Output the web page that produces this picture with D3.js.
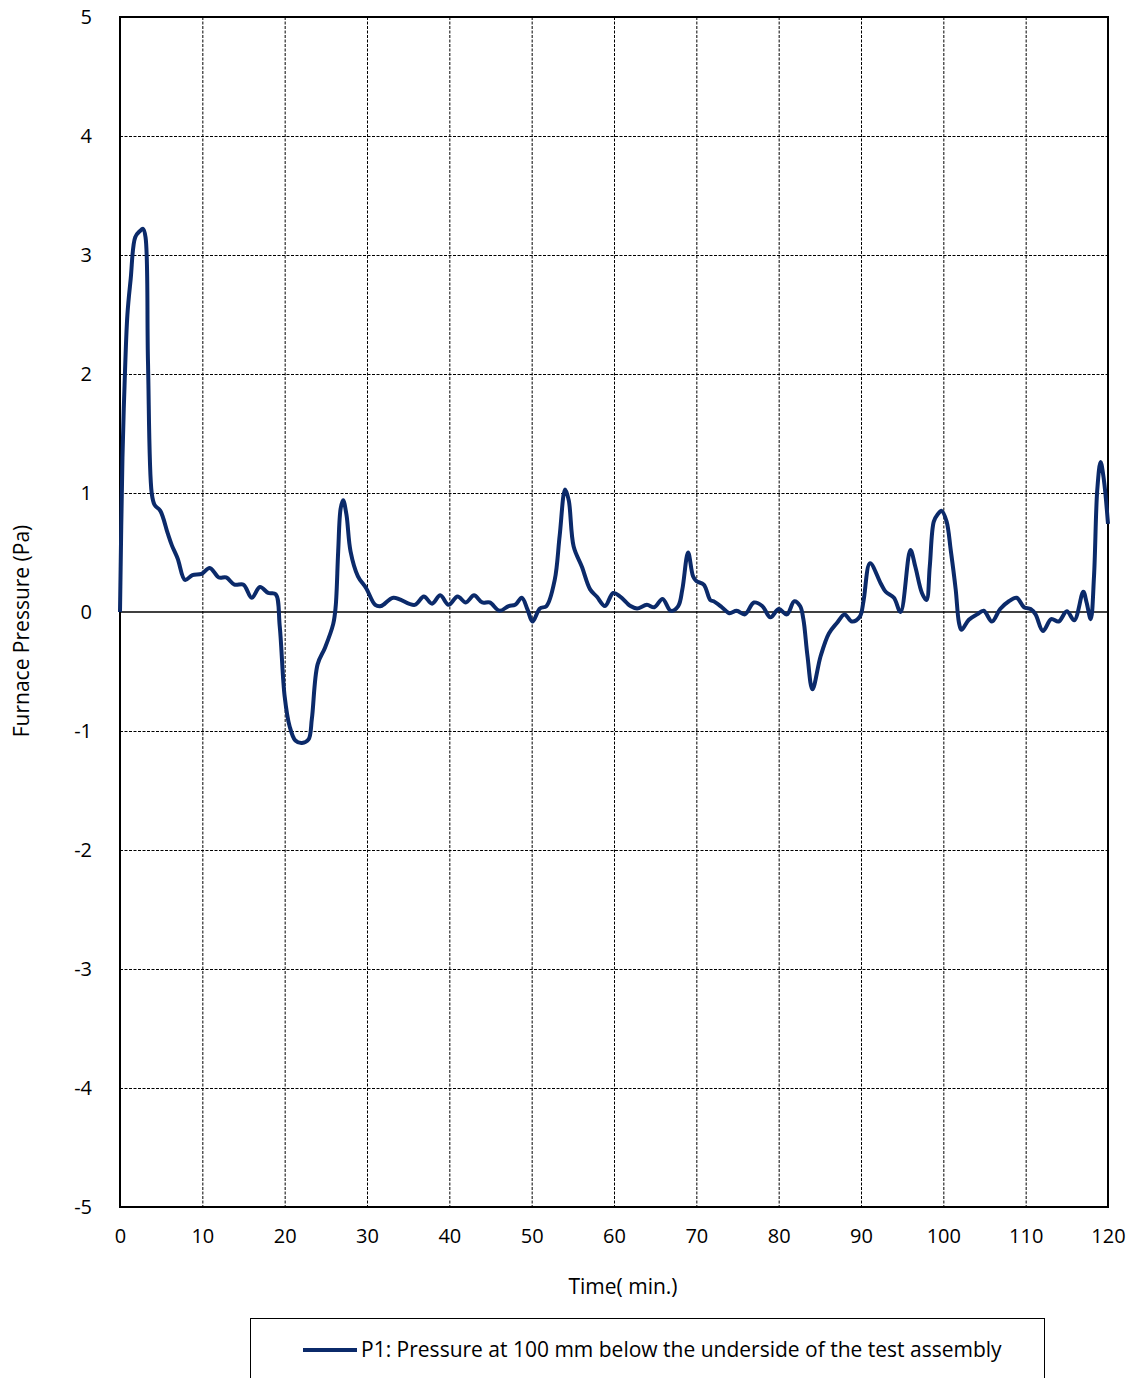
<!DOCTYPE html>
<html>
<head>
<meta charset="utf-8">
<script src="https://cdn.jsdelivr.net/npm/d3@7"></script>
<style>
  body { margin: 0; background: #fff; }
  svg text { font-family: "Open Sans", sans-serif; fill: #000; }
</style>
</head>
<body>
<svg id="chart" width="1130" height="1378"></svg>
<script>
// time (min) and furnace pressure (Pa)
const timeMin = [0, 0.3, 0.55, 0.9, 1.3, 1.85, 2.4, 2.8, 3.1, 3.4, 3.85, 4.2, 4.9, 5.8, 6.3, 7.0, 7.9, 8.8, 9.9,
  10.9, 12.0, 12.9, 13.9, 15.0, 16.0, 17.0, 18.0, 18.9, 19.4, 20.0, 20.6, 21.3, 22.1, 22.9, 23.3, 24.0, 24.9,
  25.9, 26.2, 26.5, 26.8, 27.1, 27.5, 28.0, 28.9, 29.9, 31.0, 31.7, 33.2, 35.8, 36.9, 37.9, 38.9, 39.9, 41.0,
  42.0, 43.0, 44.0, 44.9, 46.1, 47.2, 48.0, 48.8, 49.5, 50.1, 51.0, 51.8, 52.8, 53.4, 54.06, 54.5, 55.1, 56.1,
  57.1, 57.9, 58.9, 59.9, 60.75, 62.0, 62.8, 64.0, 64.9, 65.9, 66.9, 67.8, 68.3, 69.0, 69.6, 70.0, 70.9, 71.7,
  72.1, 73.1, 74.0, 74.9, 75.9, 77.0, 78.0, 79.0, 80.0, 81.0, 81.9, 82.6, 83.0, 83.5, 84.1, 85.1, 86.1, 87.1,
  88.0, 88.9, 89.85, 90.3, 91.1, 92.4, 93.0, 94.0, 94.8, 96.0, 96.6, 97.4, 97.95, 98.35, 98.84, 99.3, 99.8,
  100.4, 100.9, 101.5, 101.9, 102.2, 103.1, 104.1, 104.9, 105.9, 106.9, 107.96, 108.9, 109.8, 110.6, 111.2,
  112.1, 113.1, 114.0, 115.0, 115.9, 117.0, 117.4, 117.9, 118.3, 118.7, 119.1, 119.5, 120.0];
const pressurePa = [0, 1.3, 1.9, 2.5, 2.8, 3.15, 3.2, 3.22, 3.15, 2.1, 1.0, 0.9, 0.85, 0.66, 0.56, 0.45, 0.27, 0.31, 0.32,
  0.37, 0.29, 0.29, 0.23, 0.23, 0.12, 0.21, 0.16, 0.15, -0.12, -0.71, -0.96, -1.08, -1.1, -1.07, -0.9, -0.44, -0.3,
  -0.1, 0.05, 0.51, 0.87, 0.94, 0.82, 0.51, 0.3, 0.2, 0.06, 0.05, 0.12, 0.06, 0.13, 0.07, 0.14, 0.06, 0.13,
  0.08, 0.14, 0.08, 0.08, 0.01, 0.05, 0.06, 0.12, 0.02, -0.08, 0.03, 0.05, 0.27, 0.64, 1.03, 0.94, 0.55, 0.38,
  0.19, 0.13, 0.05, 0.16, 0.13, 0.05, 0.03, 0.06, 0.04, 0.11, 0.01, 0.05, 0.19, 0.5, 0.3, 0.26, 0.23, 0.1,
  0.09, 0.04, -0.01, 0.01, -0.02, 0.08, 0.05, -0.045, 0.025, -0.02, 0.09, 0.05, -0.06, -0.37, -0.65, -0.37, -0.18, -0.09,
  -0.02, -0.08, -0.04, 0.09, 0.41, 0.24, 0.17, 0.12, 0, 0.52, 0.38, 0.16, 0.1, 0.38, 0.76, 0.82, 0.85,
  0.76, 0.52, 0.19, -0.09, -0.15, -0.065, -0.02, 0.01, -0.08, 0.025, 0.09, 0.12, 0.04, 0.025, -0.02,
  -0.16, -0.06, -0.08, 0.006, -0.07, 0.17, 0.08, -0.06, 0.3, 1.03, 1.26, 1.11, 0.74];

const xTicks = [0, 10, 20, 30, 40, 50, 60, 70, 80, 90, 100, 110, 120];
const yTicks = [-5, -4, -3, -2, -1, 0, 1, 2, 3, 4, 5];
const seriesName = "P1: Pressure at 100 mm below the underside of the test assembly";

const plotLeft = 120, plotRight = 1108, plotTop = 17, plotBottom = 1207;
const lineColor = "#0b2a6a";

const svg = d3.select("#chart");
const x = d3.scaleLinear().domain([0, 120]).range([plotLeft, plotRight]);
const y = d3.scaleLinear().domain([-5, 5]).range([plotBottom, plotTop]);

// dashed grid
svg.append("g").selectAll("line")
  .data(xTicks.filter(d => d > 0 && d < 120))
  .enter().append("line")
  .attr("x1", d => x(d) + 0.5).attr("x2", d => x(d) + 0.5)
  .attr("y1", plotTop).attr("y2", plotBottom)
  .attr("stroke", "#000").attr("stroke-width", 1).attr("stroke-dasharray", "3,1.5");

svg.append("g").selectAll("line")
  .data(yTicks.filter(d => d > -5 && d < 5 && d !== 0))
  .enter().append("line")
  .attr("x1", plotLeft).attr("x2", plotRight)
  .attr("y1", d => y(d) + 0.5).attr("y2", d => y(d) + 0.5)
  .attr("stroke", "#000").attr("stroke-width", 1).attr("stroke-dasharray", "3,1.5");

// zero line
svg.append("line")
  .attr("x1", plotLeft).attr("x2", plotRight)
  .attr("y1", y(0)).attr("y2", y(0))
  .attr("stroke", "#000").attr("stroke-width", 1.5);

// frame
svg.append("rect")
  .attr("x", plotLeft).attr("y", plotTop)
  .attr("width", plotRight - plotLeft).attr("height", plotBottom - plotTop)
  .attr("fill", "none").attr("stroke", "#000").attr("stroke-width", 2);

// axes labels (plain hyphen for negatives, like the original)
const xAxis = d3.axisBottom(x).tickValues(xTicks).tickFormat(d => String(d)).tickSize(0).tickPadding(22);
svg.append("g").attr("transform", `translate(0,${plotBottom})`).call(xAxis)
  .call(g => g.select(".domain").remove())
  .selectAll("text").style("font-size", "20px").style("font-family", null);

const yAxis = d3.axisLeft(y).tickValues(yTicks).tickFormat(d => String(d)).tickSize(0).tickPadding(28);
svg.append("g").attr("transform", `translate(${plotLeft},0)`).call(yAxis)
  .call(g => g.select(".domain").remove())
  .selectAll("text").style("font-size", "20px").style("font-family", null);

svg.append("text")
  .attr("x", 623).attr("y", 1294)
  .attr("text-anchor", "middle").style("font-size", "21px")
  .text("Time( min.)");

svg.append("text")
  .attr("transform", `translate(29,${(plotTop + plotBottom) / 2 + 19}) rotate(-90)`)
  .attr("text-anchor", "middle").style("font-size", "21px")
  .text("Furnace Pressure (Pa)");

// the series
const data = timeMin.map((t, i) => ({ t, p: pressurePa[i] }));
const line = d3.line()
  .x(d => x(d.t))
  .y(d => y(d.p))
  .curve(d3.curveCatmullRom.alpha(0.5));

svg.append("path")
  .datum(data)
  .attr("d", line)
  .attr("fill", "none")
  .attr("stroke", lineColor)
  .attr("stroke-width", 4)
  .attr("stroke-linejoin", "round");

// legend
svg.append("rect")
  .attr("x", 250.5).attr("y", 1318.5)
  .attr("width", 794).attr("height", 80)
  .attr("fill", "#fff").attr("stroke", "#000").attr("stroke-width", 1);

svg.append("line")
  .attr("x1", 303).attr("x2", 357)
  .attr("y1", 1350).attr("y2", 1350)
  .attr("stroke", lineColor).attr("stroke-width", 4);

svg.append("text")
  .attr("x", 361).attr("y", 1357)
  .style("font-size", "21px")
  .text(seriesName);
</script>
</body>
</html>
